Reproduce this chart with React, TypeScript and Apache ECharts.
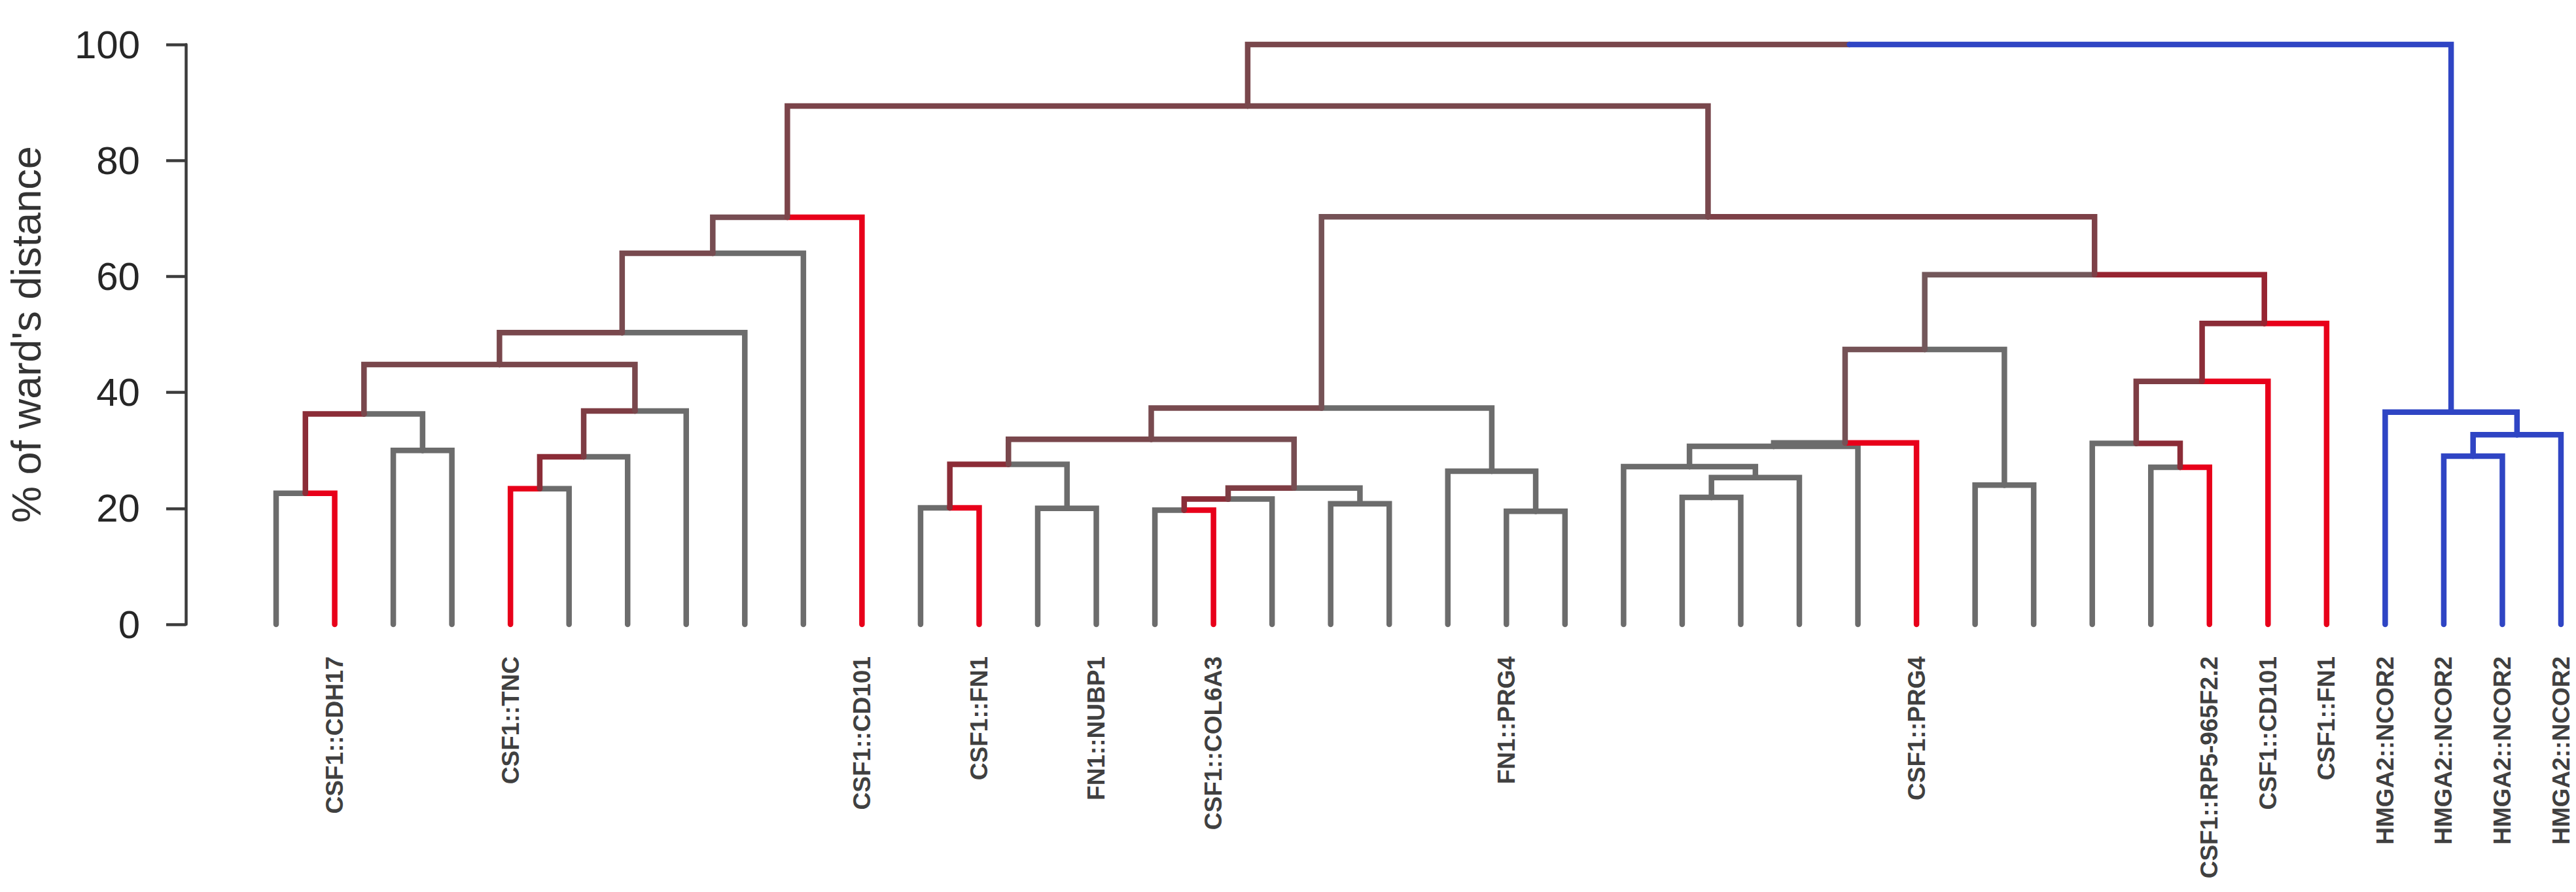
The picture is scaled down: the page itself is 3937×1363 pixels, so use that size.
import React, { useEffect, useRef } from "react";
import * as echarts from "echarts";

// Leaf labels in dendrogram order (empty = unlabelled leaf)
const leafLabels: string[] = [
  "", "CSF1::CDH17", "", "", "CSF1::TNC", "", "", "", "", "",
  "CSF1::CD101", "", "CSF1::FN1", "", "FN1::NUBP1", "", "CSF1::COL6A3", "", "", "",
  "", "FN1::PRG4", "", "", "", "", "", "", "CSF1::PRG4", "",
  "", "", "", "CSF1::RP5-965F2.2", "CSF1::CD101", "CSF1::FN1", "HMGA2::NCOR2", "HMGA2::NCOR2", "HMGA2::NCOR2", "HMGA2::NCOR2",
];

// Branch group of every leaf: g = grey, r = red, b = blue
const leafGroups: string[] = [
  "g", "r", "g", "g", "r", "g", "g", "g", "g", "g",
  "r", "g", "r", "g", "g", "g", "r", "g", "g", "g",
  "g", "g", "g", "g", "g", "g", "g", "g", "r", "g",
  "g", "g", "g", "r", "r", "r", "b", "b", "b", "b",
];

// Merges: [left child id, right child id, height (% of ward's distance)]
// ids 0..39 are leaves, id 40 + k is the k-th merge
const merges: [number, number, number][] = [
  [0, 1, 22.6],    // 40
  [2, 3, 30.0],    // 41
  [40, 41, 36.3],  // 42
  [4, 5, 23.4],    // 43
  [43, 6, 28.9],   // 44
  [44, 7, 36.8],   // 45
  [42, 45, 44.8],  // 46
  [46, 8, 50.3],   // 47
  [47, 9, 64.0],   // 48
  [48, 10, 70.2],  // 49
  [11, 12, 20.1],  // 50
  [13, 14, 20.0],  // 51
  [50, 51, 27.6],  // 52
  [15, 16, 19.7],  // 53
  [53, 17, 21.6],  // 54
  [18, 19, 20.8],  // 55
  [54, 55, 23.5],  // 56
  [52, 56, 31.9],  // 57
  [21, 22, 19.5],  // 58
  [20, 58, 26.4],  // 59
  [57, 59, 37.3],  // 60
  [24, 25, 21.9],  // 61
  [61, 26, 25.3],  // 62
  [23, 62, 27.2],  // 63
  [63, 27, 30.7],  // 64
  [64, 28, 31.3],  // 65
  [29, 30, 24.0],  // 66
  [65, 66, 47.4],  // 67
  [32, 33, 27.1],  // 68
  [31, 68, 31.2],  // 69
  [69, 34, 41.9],  // 70
  [70, 35, 51.9],  // 71
  [67, 71, 60.3],  // 72
  [60, 72, 70.3],  // 73
  [49, 73, 89.4],  // 74
  [37, 38, 29.0],  // 75
  [75, 39, 32.7],  // 76
  [36, 76, 36.6],  // 77
  [74, 77, 100.0], // 78
];

const yTicks = { min: 0, max: 100, interval: 20 };

const GREY = [108, 108, 108];
const RED = [232, 0, 26];
const BLUE = "#2f45c4";

function mixColor(f: number): string {
  const dark = 1 - 0.18 * Math.sin(Math.PI * f);
  const c = GREY.map((g, i) => Math.round((g + (RED[i] - g) * f) * dark));
  return `rgb(${c[0]},${c[1]},${c[2]})`;
}

function buildEdges() {
  const n = leafLabels.length;
  const xs: number[] = [];
  const hs: number[] = [];
  const size: number[] = [];
  const reds: number[] = [];
  const blues: number[] = [];
  for (let i = 0; i < n; i++) {
    xs[i] = i;
    hs[i] = 0;
    size[i] = 1;
    reds[i] = leafGroups[i] === "r" ? 1 : 0;
    blues[i] = leafGroups[i] === "b" ? 1 : 0;
  }
  const colorOf = (id: number) => {
    if (blues[id] === size[id]) return BLUE;
    return mixColor(reds[id] / size[id]);
  };
  const edges: { coords: number[][]; color: string; rank: number }[] = [];
  merges.forEach(([a, b, h], k) => {
    const id = n + k;
    xs[id] = (xs[a] + xs[b]) / 2;
    hs[id] = h;
    size[id] = size[a] + size[b];
    reds[id] = reds[a] + reds[b];
    blues[id] = blues[a] + blues[b];
    [a, b].forEach((c) => {
      const rank = reds[c] === 0 && blues[c] === 0 ? 0 : 1;
      edges.push({
        coords: [
          [xs[id], h],
          [xs[c], h],
          [xs[c], hs[c]],
        ],
        color: colorOf(c),
        rank,
      });
    });
  });
  edges.sort((p, q) => p.rank - q.rank);
  return edges;
}

export default function App() {
  const ref = useRef<HTMLDivElement>(null);
  useEffect(() => {
    if (!ref.current) return;
    const chart = echarts.init(ref.current, undefined, { renderer: "svg" });
    const edges = buildEdges();
    const labelFont = '"Liberation Sans", Arial, sans-serif';
    chart.setOption({
      animation: false,
      backgroundColor: "#ffffff",
      grid: { left: 415, right: 23, top: 68, bottom: 409, containLabel: false },
      xAxis: [
        { type: "value", min: 0, max: leafLabels.length - 1, show: false },
        {
          type: "category",
          data: leafLabels,
          boundaryGap: false,
          position: "bottom",
          axisLine: { show: false, onZero: false },
          axisTick: { show: false },
          splitLine: { show: false },
          axisLabel: {
            interval: 0,
            rotate: 90,
            margin: 49,
            fontSize: 37,
            fontWeight: "bold",
            fontFamily: labelFont,
            color: "#404040",
          },
        },
      ],
      yAxis: {
        type: "value",
        min: yTicks.min,
        max: yTicks.max,
        interval: yTicks.interval,
        position: "left",
        offset: 138,
        splitLine: { show: false },
        axisLine: { show: true, onZero: false, lineStyle: { color: "#3c3c3c", width: 4.5 } },
        axisTick: { show: true, length: 30, lineStyle: { color: "#3c3c3c", width: 4.5 } },
        axisLabel: {
          margin: 70,
          fontSize: 60,
          fontFamily: '"Liberation Sans Narrow", "Liberation Sans", Arial, sans-serif',
          color: "#262626",
        },
        name: "% of ward's distance",
        nameLocation: "middle",
        nameGap: 213,
        nameRotate: 90,
        nameTextStyle: {
          fontSize: 63,
          fontFamily: labelFont,
          color: "#333333",
        },
      },
      series: [
        {
          type: "lines",
          coordinateSystem: "cartesian2d",
          xAxisIndex: 0,
          yAxisIndex: 0,
          polyline: true,
          silent: true,
          clip: false,
          lineStyle: { width: 8.5, opacity: 1, cap: "round", join: "miter" },
          data: edges.map((e) => ({ coords: e.coords, lineStyle: { color: e.color } })),
        },
      ],
    });
    return () => chart.dispose();
  }, []);
  return (
    <div
      ref={ref}
      style={{ position: "fixed", left: 0, top: 0, width: 3937, height: 1363, background: "#fff" }}
    />
  );
}
